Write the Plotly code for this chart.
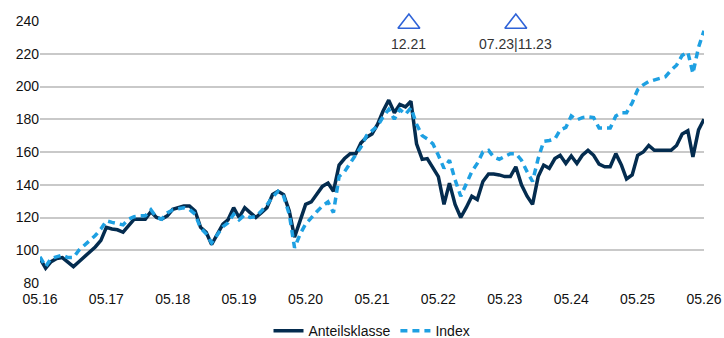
import pandas as pd
import plotly.graph_objects as go

# Monthly observations, May 2016 to May 2026 (121 months)
dates = pd.date_range("2016-05-01", periods=121, freq="MS")

anteilsklasse = [
    95, 89, 93, 95, 95.5, 93, 90, 93, 96, 99, 102, 106,            # 05.16 - 04.17
    114, 113, 112.5, 111, 115, 119, 119, 119, 123.5, 120, 119, 121,  # 05.17 - 04.18
    125, 126, 127, 127, 124, 114, 111, 103.5, 110, 116, 118.6, 126,  # 05.18 - 04.19
    120, 126, 123, 120, 123, 126, 134, 136, 134, 124, 108, 119,      # 05.19 - 04.20
    128, 129.5, 134, 139, 141, 136, 152, 156, 159, 159, 165.5, 169,  # 05.20 - 04.21
    171, 177, 185, 191.7, 184, 189, 187.5, 191, 165, 155.5, 156, 150,  # 05.21 - 04.22
    145, 128, 141, 128, 120, 126, 133, 131, 142, 146.6, 146.6, 146,  # 05.22 - 04.23
    145, 145, 151, 140, 133, 128, 145, 152, 150, 156, 158, 153,      # 05.23 - 04.24
    157.6, 153, 158, 161, 158, 152.6, 151, 151, 159, 152, 143.5, 146,  # 05.24 - 04.25
    158, 160, 164, 161, 161, 161, 161, 164, 171, 173, 157, 173.5,    # 05.25 - 04.26
    180,                                                             # 05.26
]

index_values = [
    96, 90, 95, 96, 97, 95.5, 95.5, 100, 103, 106, 109, 113,
    118, 117, 116.5, 115.5, 119, 120.5, 121, 121, 124.7, 120, 119, 122.8,
    124.7, 125.5, 126, 125, 122, 113.7, 110, 104.5, 109.5, 114.4, 116.7, 122,
    118.6, 121.6, 120, 120.5, 124, 127.7, 132.6, 136, 133, 122, 101.5, 110,
    116, 120, 123.5, 127, 129.5, 123, 145, 148, 153, 158, 163, 170,
    173, 176, 181.5, 186, 180, 186, 183, 187, 177, 170, 168, 165,
    158, 150, 155, 143, 133, 141, 148, 153, 160, 161, 157, 155.6,
    157, 159, 159, 155, 148, 142, 156, 166.5, 167, 168, 173.5, 175,
    182, 179.6, 181, 181.5, 181, 174.6, 174.6, 174.6, 182, 184, 184, 190,
    198, 201, 203, 204, 204.6, 206, 210, 213, 219, 221, 208, 224,
    234,
]

# Event markers shown above the plot
event_dates = ["2021-11-20", "2023-07-01"]
event_labels = ["12.21", "07.23|11.23"]
event_level = 238.5

tick_dates = pd.date_range("2016-05-01", periods=11, freq="12MS")
tick_labels = [d.strftime("%m.%y") for d in tick_dates]
y_ticks = list(range(80, 241, 20))

navy = "#042c4f"
sky = "#1ea0e2"
marker_blue = "#2f63d8"
font_family = "Liberation Sans, Arial, sans-serif"

fig = go.Figure()

fig.add_trace(go.Scatter(
    x=dates, y=anteilsklasse, name="Anteilsklasse", mode="lines",
    line=dict(color=navy, width=3.5),
))
fig.add_trace(go.Scatter(
    x=dates, y=index_values, name="Index", mode="lines",
    line=dict(color=sky, width=3.5, dash="7px,5px"),
))
fig.add_trace(go.Scatter(
    x=pd.to_datetime(event_dates), y=[event_level] * len(event_dates),
    mode="markers", showlegend=False, cliponaxis=False,
    marker=dict(symbol="triangle-up-open", size=19, color=marker_blue,
                line=dict(width=1.6, color=marker_blue)),
))

for d, label in zip(event_dates, event_labels):
    fig.add_annotation(
        x=pd.to_datetime(d), y=event_level, text=label, showarrow=False,
        yshift=-21, font=dict(size=14, color="#333333", family=font_family),
    )

fig.update_layout(
    width=724, height=338,
    margin=dict(l=40, r=20, t=21, b=55),
    paper_bgcolor="white", plot_bgcolor="white",
    font=dict(family=font_family, size=14, color="#111111"),
    hovermode=False,
    legend=dict(
        orientation="h", x=0.5, xanchor="center",
        y=0.02, yanchor="middle", yref="container",
        font=dict(size=14, color="#111111"),
        bgcolor="rgba(0,0,0,0)",
    ),
)

fig.update_xaxes(
    range=[dates[0], dates[-1]], automargin=False,
    tickvals=tick_dates, ticktext=tick_labels,
    showgrid=False, showline=False, zeroline=False, ticks="",
    ticklabelstandoff=6,
    tickfont=dict(size=14, color="#111111"),
)
fig.update_yaxes(
    range=[80, 240], tickvals=y_ticks, automargin=False,
    showgrid=True, gridcolor="#c9c9c9", gridwidth=1.5,
    showline=False, zeroline=False, ticks="",
    tickfont=dict(size=14, color="#111111"),
)

fig.write_html("out.html")
